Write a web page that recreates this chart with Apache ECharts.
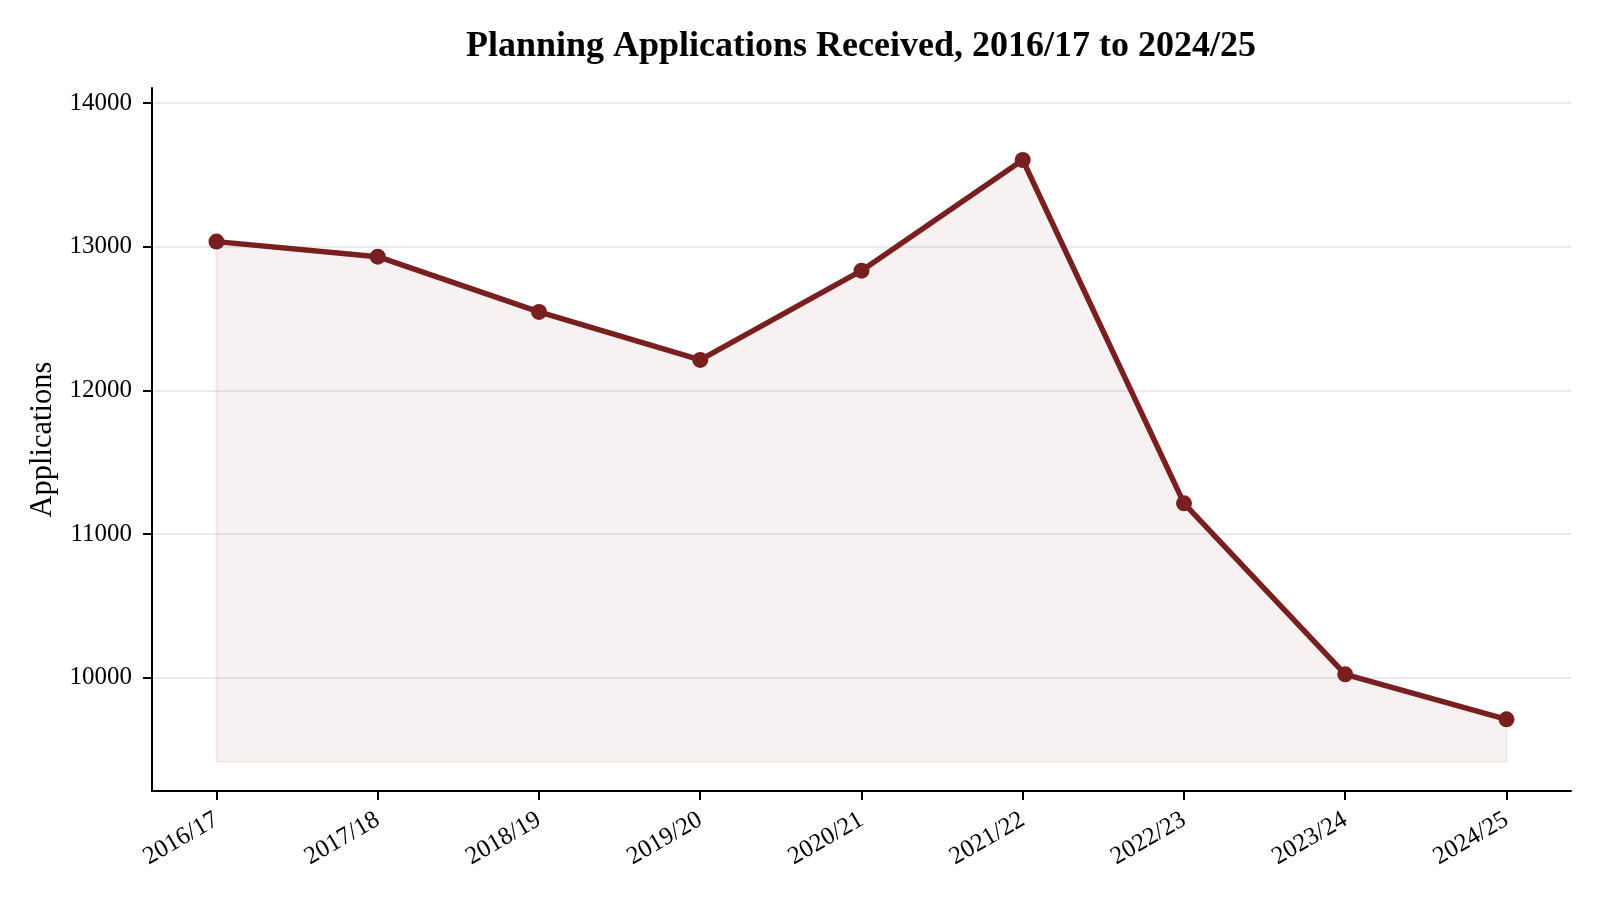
<!DOCTYPE html>
<html>
<head>
    <meta charset="UTF-8">
    <script src="https://cdn.jsdelivr.net/npm/echarts@6/dist/echarts.min.js"></script>
    <style>
        html, body { margin: 0; padding: 0; background: #fff; }
    </style>
</head>
<body>
<div id="chart" style="width: 1600px;height:900px;"></div>
<script>
    // data
    var years = ['2016/17', '2017/18', '2018/19', '2019/20', '2020/21', '2021/22', '2022/23', '2023/24', '2024/25'];
    var applications = [13035, 12930, 12546, 12212, 12833, 13603, 11214, 10024, 9711];
    var yTicks = [10000, 11000, 12000, 13000, 14000];
    var fillBase = 9416; // the shaded area stops a bit above the axis

    var lineColor = '#7a1f1f';
    var serif = 'Liberation Serif';

    var idx = years.map(function (y, i) { return i; });
    var points = applications.map(function (v, i) { return [i, v]; });
    var last = years.length - 1;
    var outline = [[0, applications[0]], [0, fillBase], [last, fillBase], [last, applications[last]]];

    var myChart = echarts.init(document.getElementById('chart'));
    var option = {
        animation: false,
        title: {
            text: 'Planning Applications Received, 2016/17 to 2024/25',
            left: 856,
            top: 24,
            textAlign: 'center',
            textStyle: {
                fontFamily: serif,
                fontWeight: 'bold',
                fontSize: 36,
                color: '#000'
            }
        },
        grid: {
            left: 152,
            right: 29,
            top: 88,
            bottom: 109
        },
        xAxis: {
            type: 'value',
            min: -0.4,
            max: last + 0.4,
            axisLine: { show: true, onZero: false, lineStyle: { color: '#000', width: 2 } },
            axisTick: { show: true, customValues: idx, length: 9, lineStyle: { color: '#000', width: 2 } },
            axisLabel: {
                customValues: idx,
                rotate: 30,
                margin: 27,
                fontFamily: serif,
                fontSize: 25,
                color: '#000',
                formatter: function (v) { return years[Math.round(v)]; }
            },
            splitLine: { show: false }
        },
        yAxis: {
            type: 'value',
            min: 9212,
            max: 14104,
            name: 'Applications',
            nameLocation: 'middle',
            nameGap: 94,
            nameTextStyle: { fontFamily: serif, fontSize: 30.5, color: '#000' },
            axisLine: { show: true, onZero: false, lineStyle: { color: '#000', width: 2 } },
            axisTick: { show: true, customValues: yTicks, length: 9, lineStyle: { color: '#000', width: 2 } },
            axisLabel: {
                customValues: yTicks,
                margin: 20,
                fontFamily: serif,
                fontSize: 25,
                color: '#000',
                formatter: function (v) { return String(v); }
            },
            splitLine: { show: true, lineStyle: { color: '#e3e3e3', width: 1.5 } }
        },
        series: [
            {
                name: 'fill edge',
                type: 'line',
                data: outline,
                symbol: 'none',
                silent: true,
                lineStyle: { color: 'rgba(122,31,31,0.07)', width: 2 },
                z: 1
            },
            {
                name: 'Applications',
                type: 'line',
                data: points,
                symbol: 'circle',
                symbolSize: 16,
                itemStyle: { color: lineColor },
                lineStyle: { color: lineColor, width: 5.5 },
                areaStyle: { color: 'rgba(122,31,31,0.09)', origin: fillBase },
                z: 3
            }
        ]
    };
    myChart.setOption(option);
</script>
</body>
</html>
